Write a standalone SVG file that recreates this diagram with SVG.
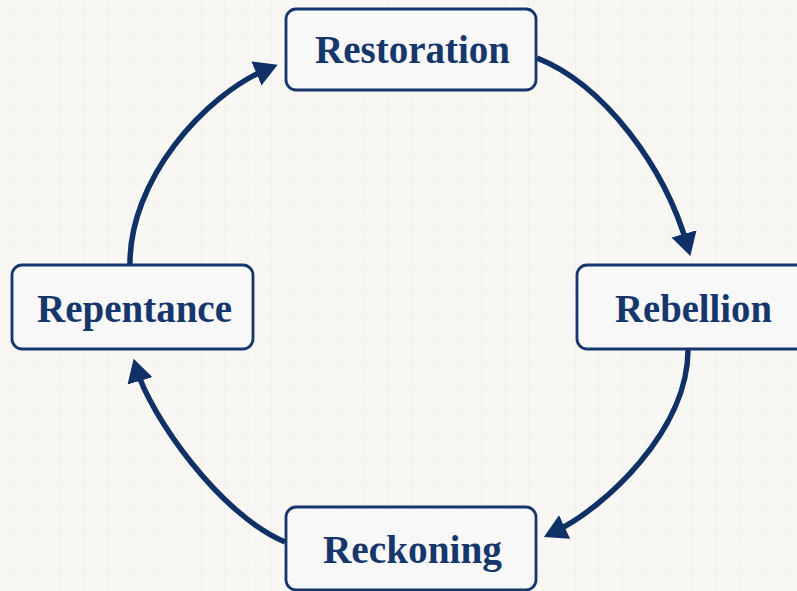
<svg xmlns="http://www.w3.org/2000/svg" width="797" height="591" viewBox="0 0 797 591">
<style>
.box{fill:#f8f8f9;stroke:#15376c;stroke-width:2.8}
.lbl{font-family:"Liberation Serif","DejaVu Serif",serif;font-weight:bold;font-size:39px;fill:#15376c;text-anchor:middle}
.arr{fill:none;stroke:#0f3166;stroke-width:5.5;stroke-linecap:butt}
</style>
<defs>
<pattern id="grid" x="13.3" y="13.3" width="23.4" height="23.4" patternUnits="userSpaceOnUse">
<path d="M0,0 H23.4 M0,0 V23.4" stroke="#efebe6" stroke-width="1.2" fill="none"/>
</pattern>
<marker id="ah" markerUnits="userSpaceOnUse" markerWidth="26" markerHeight="28" refX="12" refY="13" orient="auto">
<path d="M0,0 L23,13 L0,26 z" fill="#0f3166"/>
</marker>
</defs>
<rect width="797" height="591" fill="#f8f7f3"/>
<rect width="797" height="591" fill="url(#grid)"/>
<g id="connectors">
<path class="arr" d="M537,58 C605,85 665,168 687.3,245.4" marker-end="url(#ah)"/>
<path class="arr" d="M688,350 C688,430 605,508 553.8,532.2" marker-end="url(#ah)"/>
<path class="arr" d="M285,542 C220,515 150,415 136.7,369.3" marker-end="url(#ah)"/>
<path class="arr" d="M130,267 C128,180 205,95 267.5,68.9" marker-end="url(#ah)"/>
</g>
<g id="restoration">
<rect class="box" x="286" y="9" width="250" height="81" rx="10"/>
<text class="lbl" x="412.5" y="63" textLength="195" lengthAdjust="spacingAndGlyphs">Restoration</text>
</g>
<g id="rebellion">
<rect class="box" x="577" y="265" width="250" height="84" rx="10"/>
<text class="lbl" x="693.5" y="322" textLength="157" lengthAdjust="spacingAndGlyphs">Rebellion</text>
</g>
<g id="reckoning">
<rect class="box" x="286" y="507" width="250" height="83" rx="10"/>
<text class="lbl" x="412.5" y="563" textLength="179" lengthAdjust="spacingAndGlyphs">Reckoning</text>
</g>
<g id="repentance">
<rect class="box" x="12" y="265" width="241" height="84" rx="10"/>
<text class="lbl" x="134.5" y="322" textLength="195" lengthAdjust="spacingAndGlyphs">Repentance</text>
</g>
</svg>
